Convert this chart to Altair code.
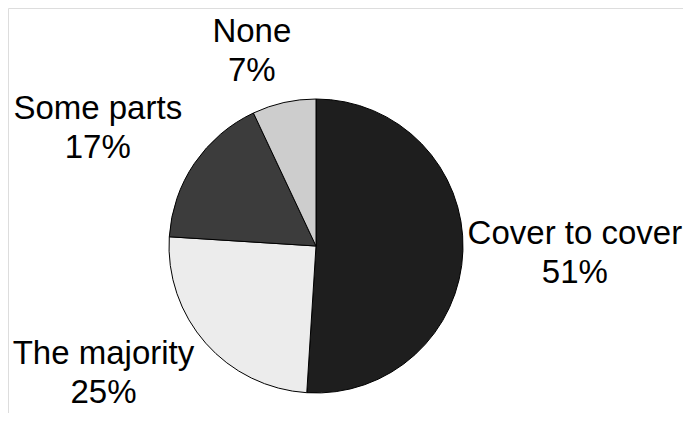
import math
import altair as alt
import pandas as pd

categories = ["Cover to cover", "The majority", "Some parts", "None"]
values = [51, 25, 17, 7]
slice_order = [0, 1, 2, 3]

fill_colors = ["#1e1e1e", "#ececec", "#3c3c3c", "#cdcdcd"]

df = pd.DataFrame({"category": categories, "value": values, "ord": slice_order})

theta_scale = alt.Scale(domain=[0, 100], range=[0, 2 * math.pi])
CX, CY = 308, 238
R = 147

base = (
    alt.Chart(df)
    .transform_window(cum="sum(value)", sort=[alt.SortField("ord")])
    .transform_calculate(
        start="datum.cum - datum.value",
        mid="datum.cum - datum.value / 2",
        label="[datum.category, datum.value + '%']",
    )
)

pie = base.mark_arc(outerRadius=R, stroke="black", strokeWidth=1).encode(
    theta=alt.Theta("start:Q", scale=theta_scale),
    theta2="cum:Q",
    fill=alt.Fill("category:N", scale=alt.Scale(domain=categories, range=fill_colors), legend=None),
    x=alt.value(CX),
    y=alt.value(CY),
)

# per-label offsets (layout only)
offsets = {
    "Cover to cover": (29, -9),
    "The majority": (-40, -34),
    "Some parts": (-28, 2),
    "None": (-14, 20),
}

layers = [pie]
for cat in categories:
    dx, dy = offsets[cat]
    t = (
        base.mark_text(
            radius=230,
            font="Liberation Sans",
            fontSize=33,
            lineHeight=39,
            align="center",
            baseline="alphabetic",
            color="black",
            dx=dx,
            dy=dy,
        )
        .encode(
            theta=alt.Theta("mid:Q", scale=theta_scale),
            text="label:N",
            x=alt.value(CX),
            y=alt.value(CY),
        )
        .transform_filter(alt.datum.category == cat)
    )
    layers.append(t)

chart = (
    alt.layer(*layers)
    .properties(width=675, height=405, autosize=alt.AutoSizeParams(type="none"), padding=0)
    .configure_view(stroke="transparent", strokeWidth=0)
    .configure(background="white")
)

chart.save("out.html", embed_options={"renderer": "svg", "actions": False})
